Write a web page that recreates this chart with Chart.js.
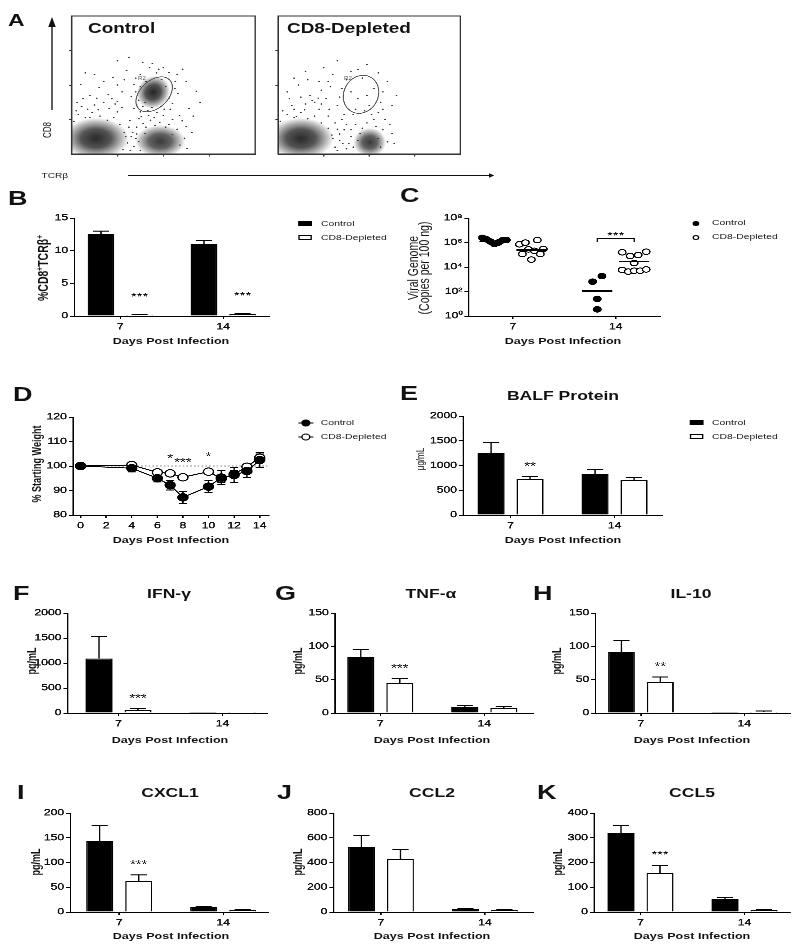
<!DOCTYPE html>
<html><head><meta charset="utf-8">
<script src="https://cdn.jsdelivr.net/npm/chart.js@4.4.1/dist/chart.umd.min.js"></script>
<style>
html,body{margin:0;padding:0;background:#fff;}
body{width:800px;height:951px;overflow:hidden;position:relative;}
#root{position:absolute;left:0;top:0;width:593px;height:951px;transform:scaleX(1.35);transform-origin:0 0;font-family:"Liberation Sans",Arial,sans-serif;color:#111;}
#root canvas{position:absolute;}
.t{position:absolute;white-space:nowrap;line-height:1;}
.t sup{font-size:0.62em;line-height:0;vertical-align:0.55em;}
</style></head><body><div id="root"></div>
<script>
// ================= DATA =================
const days = ['7', '14'];
const groups = ['Control', 'CD8-Depleted'];

// Panel A: flow cytometry events (axes in decades, 0-4)
const flowTicks = [1, 2, 3];
const ctrlEvents = [[0.05,0.95],[0.15,1.15],[0.3,1.05],[0.45,1.2],[0.62,1.1],[0.78,0.98],[0.92,1.05],[1.05,0.85],[1.15,0.62],[1.22,0.32],[1.12,0.12],[0.22,1.38],[0.5,1.42],[0.82,1.32],[1.0,1.22],
 [1.3,0.5],[1.36,0.22],[1.42,0.78],[1.47,1.02],[1.27,0.97],[1.56,0.88],[1.72,0.98],[1.92,0.92],[2.12,0.86],[2.3,0.72],[2.46,0.46],[2.52,0.16],[2.41,0.96],[2.62,0.62],
 [1.36,1.32],[1.5,1.22],[1.66,1.26],[1.86,1.2],[2.02,1.3],[2.2,1.46],[2.32,1.76],[2.26,2.1],[2.12,2.36],[1.9,2.46],[1.7,2.5],[1.5,2.3],[1.36,2.02],[1.3,1.66],[1.46,1.56],[2.12,1.62],[1.6,1.5],[1.96,2.16],[1.76,2.62],[2.42,2.46],[1.2,2.42],[1.1,1.8],[1.0,1.52],[0.8,1.72],[0.6,1.92],[0.4,1.7],[0.2,2.02],[0.9,2.22],[1.25,2.8],[1.55,2.66],[2.56,1.32],[2.72,1.82],
 [1.46,0.36],[1.6,0.6],[2.2,0.56],[2.36,0.26],[1.5,0.1],
 [0.1,1.25],[0.35,1.3],[0.58,1.28],[0.7,1.5],[0.95,1.45],[1.1,1.35],[0.25,1.6],[0.55,1.62],[0.88,1.6],[0.12,1.5],[0.4,1.05],
 [1.18,0.5],[1.25,0.78],[1.33,0.62],[1.4,0.45],[1.28,0.1],[1.42,0.58],
 [1.52,1.08],[1.68,1.12],[1.8,1.05],[2.0,1.12],[2.2,1.0],[2.35,1.12],[2.5,0.8],[1.62,0.78],[1.82,0.82],[2.05,0.78],
 [1.42,1.42],[1.55,1.38],[1.75,1.35],[1.95,1.38],[2.15,1.3],[2.25,1.9],[2.05,1.95],[1.4,1.8],[1.5,1.95],[1.62,2.1],[1.85,2.35],[2.0,2.5],[1.4,2.2],[2.3,2.3],
 [0.7,2.1],[0.5,2.3],[1.0,2.0],[1.15,2.15],[0.3,2.35],[1.0,2.7],[2.5,2.1],[2.8,1.5],[2.65,1.1]];
const deplEvents = [[0.05,0.95],[0.2,1.15],[0.35,1.05],[0.5,1.2],[0.65,1.02],[0.8,1.1],[0.95,0.9],[1.1,0.75],[1.2,0.45],[1.25,0.2],[0.3,1.4],[0.6,1.45],[0.9,1.3],[1.1,1.1],
 [1.35,0.4],[1.45,0.7],[1.5,0.15],[1.6,0.5],[1.7,0.85],[1.85,0.75],[2.3,0.7],[2.4,0.35],[2.5,0.6],[2.35,1.0],[2.1,1.0],[1.4,1.0],[1.25,0.9],[1.55,0.3],[1.75,0.4],[2.25,0.2],
 [0.2,1.8],[0.45,2.0],[0.7,1.7],[0.9,2.1],[1.05,1.6],[1.2,2.3],[1.3,1.4],[1.4,1.9],[1.55,1.3],[1.6,2.4],[1.75,1.6],[1.85,2.2],[2.0,1.4],[2.1,1.9],[2.25,1.5],[2.4,2.1],[2.6,1.7],[1.0,2.5],[0.6,2.4],[1.3,2.7],[1.95,2.6],[1.15,1.95],[0.8,1.5],[1.65,1.15],[1.9,1.25],[2.2,1.2],
 [0.1,1.25],[0.35,1.3],[0.58,1.28],[0.75,1.55],[0.95,1.45],[1.12,1.3],[0.25,1.6],[0.5,1.65],[0.88,1.62],[0.4,1.08],
 [1.18,0.55],[1.3,0.72],[1.35,0.58],[1.42,0.3],[1.3,0.1],[1.5,0.85],[1.6,0.7],[1.65,0.2],[1.8,0.6],[1.95,0.9],[2.15,0.8],[2.45,0.85],[2.55,0.3],[2.2,0.45],
 [1.45,1.15],[1.7,1.3],[2.05,1.15],[2.3,1.3],[1.35,1.65],[1.6,1.8],[1.95,1.7],[2.3,1.8],[0.95,1.85],[0.65,2.15],[1.5,2.15],[1.75,2.45],[2.2,2.35],[0.35,2.2],[1.1,2.1],[2.5,1.4]];
// dense populations: [x, y, spreadX, spreadY, tilt, density]
const ctrlClusters = [[0.53,0.45,0.72,0.6,0,0.93],[1.93,0.37,0.55,0.47,0,0.86],[1.78,1.79,0.38,0.46,40,0.95]];
const deplClusters = [[0.50,0.45,0.72,0.6,0,0.93],[2.01,0.34,0.36,0.42,0,0.86]];
// R2 gates: [x, y, semi-axis a, semi-axis b, tilt]
const ctrlGate = [1.80, 1.73, 0.46, 0.30, 42];
const deplGate = [1.82, 1.73, 0.43, 0.375, 60];

// Panel B
const bTicks = [0, 5, 10, 15];
const bControl = [12.5, 11.0], bControlErr = [0.5, 0.6];
const bDepleted = [0.15, 0.3], bDepletedErr = [0.05, 0.05];
const bSig = ['***', '***'];

// Panel C (copies per 100 ng)
const cTicks = [1, 1e2, 1e4, 1e6, 1e8];
const cControl7 = [2.4e6, 1.8e6, 1.2e6, 7.5e5, 1.0e6, 1.5e6, 1.6e6];
const cDepleted7 = [7.1e5, 1.15e5, 9.8e5, 2.75e5, 4.0e4, 2.1e5, 1.58e6, 1.15e5, 2.95e5];
const cControl14 = [6.3e2, 2.5e1, 3.5, 1.8e3];
const cDepleted14 = [1.58e5, 7.9e4, 9.5e4, 1.78e5, 2.1e4, 5.75e3, 4.2e3, 5.0e3, 5.0e3, 6.3e3];
const cControlMean = [1.17e6, 1.1e2];
const cDepletedMean = [2.45e5, 2.7e4];
const cSig = ['', '***'];

// Panel D
const dDays = [0, 4, 6, 7, 8, 10, 11, 12, 13, 14];
const dXTicks = [0, 2, 4, 6, 8, 10, 12, 14];
const dYTicks = [80, 90, 100, 110, 120];
const dControl = [100, 99.1, 95.0, 92.2, 87.2, 91.6, 95.3, 96.3, 97.9, 102.4];
const dControlErr = [0, 1.5, 1.5, 2.0, 2.5, 2.5, 3.0, 3.0, 2.5, 3.0];
const dDepleted = [100, 100.4, 97.4, 97.0, 95.4, 97.7, 94.8, 96.7, 99.7, 103.4];
const dDepletedErr = [0, 0.8, 0.6, 0.5, 0.5, 0.5, 1.5, 1.5, 1.0, 1.5];
const dSig = ['', '', '', '*', '***', '*', '', '', '', ''];

// Panel E-K
const eTicks = [0, 500, 1000, 1500, 2000];
const eControl = [1259, 822], eControlErr = [210, 100];
const eDepleted = [721, 707], eDepletedErr = [53, 55];
const eSig = ['**', ''];
const fTicks = [0, 500, 1000, 1500, 2000];
const fControl = [1090, 4], fControlErr = [440, 0];
const fDepleted = [67, 4], fDepletedErr = [19, 0];
const fSig = ['***', ''];
const gTicks = [0, 50, 100, 150];
const gControl = [84.5, 9.5], gControlErr = [10.5, 2];
const gDepleted = [44.5, 8], gDepletedErr = [7, 2];
const gSig = ['***', ''];
const hTicks = [0, 50, 100, 150];
const hControl = [91, 0.3], hControlErr = [18, 0];
const hDepleted = [46, 2], hDepletedErr = [8, 1];
const hSig = ['**', ''];
const iTicks = [0, 50, 100, 150, 200];
const iControl = [144, 9.5], iControlErr = [30, 1];
const iDepleted = [63, 4], iDepletedErr = [12, 1];
const iSig = ['***', ''];
const jTicks = [0, 200, 400, 600, 800];
const jControl = [525, 24], jControlErr = [95, 3];
const jDepleted = [428, 16], jDepletedErr = [80, 3];
const jSig = ['', ''];
const kTicks = [0, 100, 200, 300, 400];
const kControl = [318, 52], kControlErr = [33, 6];
const kDepleted = [159, 8], kDepletedErr = [30, 2];
const kSig = ['***', ''];

// ================= LAYOUT =================
const S = 1.35;
const root = document.getElementById('root');
const px = x => x / S;
const FONT = '"Liberation Sans", Arial, sans-serif';
Chart.defaults.font.family = FONT;
Chart.defaults.font.size = 9;
Chart.defaults.color = '#111';

function txt(x, y, s, o) {
  o = o || {};
  const d = document.createElement('div');
  d.className = 't';
  d.innerHTML = s;
  d.style.fontSize = (o.size || 9) + 'px';
  d.style.fontWeight = o.bold ? 'bold' : 'normal';
  if (o.color) d.style.color = o.color;
  d.style.left = px(x) + 'px';
  d.style.top = y + 'px';
  const ax = o.align === 'left' ? '0' : (o.align === 'right' ? '-100%' : '-50%');
  d.style.transform = 'translate(' + ax + ',-50%)' + (o.rot ? ' rotate(-90deg)' : '');
  root.appendChild(d);
}
function box(x, y, filled) {
  const d = document.createElement('div');
  d.style.cssText = 'position:absolute;box-sizing:border-box;border:1px solid #000;';
  d.style.left = px(x) + 'px'; d.style.top = (y - 2.6) + 'px';
  d.style.width = px(14) + 'px'; d.style.height = '5.2px';
  d.style.background = filled ? '#000' : '#fff';
  root.appendChild(d);
}
function dot(x, y, filled) {
  const d = document.createElement('div');
  d.style.cssText = 'position:absolute;box-sizing:border-box;border:1px solid #000;border-radius:50%;width:5.4px;height:5.4px;';
  d.style.left = (px(x) - 2.7) + 'px'; d.style.top = (y - 2.7) + 'px';
  d.style.background = filled ? '#000' : '#fff';
  root.appendChild(d);
}
function lineDot(x, y, filled) {
  const ns = 'http://www.w3.org/2000/svg';
  const s = document.createElementNS(ns, 'svg');
  const w = px(15);
  s.setAttribute('width', w); s.setAttribute('height', 8);
  s.style.cssText = 'position:absolute;overflow:visible;';
  s.style.left = px(x) + 'px'; s.style.top = (y - 4) + 'px';
  s.innerHTML = '<line x1="0" y1="4" x2="' + w + '" y2="4" stroke="#000" stroke-width="1"/>' +
    '<circle cx="' + (w / 2) + '" cy="4" r="2.9" fill="' + (filled ? '#000' : '#fff') + '" stroke="#000" stroke-width="1"/>';
  root.appendChild(s);
}
function arrows() {
  const ns = 'http://www.w3.org/2000/svg';
  const s = document.createElementNS(ns, 'svg');
  s.setAttribute('width', 600); s.setAttribute('height', 200);
  s.style.cssText = 'position:absolute;left:0;top:0;';
  const vx = px(52), h1 = px(128), h2 = px(489);
  s.innerHTML = '<line x1="' + vx + '" y1="110" x2="' + vx + '" y2="26" stroke="#111" stroke-width="1"/>' +
    '<polygon points="' + (vx - 2.8) + ',27 ' + (vx + 2.8) + ',27 ' + vx + ',17" fill="#111"/>' +
    '<line x1="' + h1 + '" y1="175.5" x2="' + h2 + '" y2="175.5" stroke="#111" stroke-width="0.9"/>' +
    '<polygon points="' + h2 + ',173.3 ' + h2 + ',177.7 ' + (h2 + 4) + ',175.5" fill="#111"/>';
  root.appendChild(s);
}

function makeCanvas(lay, pad) {
  const L = lay.L / S, W = (lay.R - lay.L) / S, H = lay.B - lay.T;
  const w = Math.ceil(pad.l + W + pad.r), h = Math.ceil(pad.t + H + pad.b);
  const cv = document.createElement('canvas');
  cv.width = w; cv.height = h;
  cv.style.left = (L - pad.l) + 'px';
  cv.style.top = (lay.T - pad.t) + 'px';
  cv._pad = pad; cv._padR = w - pad.l - W; cv._padB = h - pad.t - H;
  root.appendChild(cv);
  return cv;
}
function base(cv) {
  return { responsive: false, animation: false, devicePixelRatio: 3, events: [],
    layout: { padding: { left: 0, top: cv._pad.t, right: cv._padR, bottom: 0 } },
    plugins: { legend: { display: false }, tooltip: { enabled: false } } };
}
function xScale(cv, min, max, tickVals, label, hide) {
  return { type: 'linear', min: min, max: max, offset: false, position: 'bottom',
    afterBuildTicks: s => { s.ticks = tickVals.map(v => ({ value: v })); },
    ticks: { display: !hide, callback: label, autoSkip: false, maxRotation: 0, padding: 2.5, color: '#111', font: { size: 9 }, textStrokeColor: '#111', textStrokeWidth: 0.3 },
    grid: { drawOnChartArea: false, drawTicks: true, tickLength: hide ? 2.5 : 3, color: hide ? '#333' : '#000', lineWidth: 1, offset: false },
    border: { color: hide ? '#333' : '#000', width: 1 },
    afterFit: s => { s.height = cv._padB; } };
}
function yScale(cv, type, min, max, tickVals, label, hide) {
  return { type: type, min: min, max: max,
    afterBuildTicks: s => { s.ticks = tickVals.map(v => ({ value: v })); },
    ticks: { display: !hide, callback: label, autoSkip: false, padding: 1.5, color: '#111', font: { size: 9 }, textStrokeColor: '#111', textStrokeWidth: 0.3 },
    grid: { drawOnChartArea: false, drawTicks: true, tickLength: hide ? 2 : 3, color: hide ? '#333' : '#000', lineWidth: 1 },
    border: { color: hide ? '#333' : '#000', width: 1 },
    afterFit: s => { s.width = cv._pad.l; } };
}

// ---- plugins ----
function errPlugin(both) {
  const draw = chart => {
    const ctx = chart.ctx, ys = chart.scales.y;
    chart.data.datasets.forEach((ds, di) => {
      if (!ds.errorBars) return;
      const meta = chart.getDatasetMeta(di);
      meta.data.forEach((el, i) => {
        const e = ds.errorBars[i];
        if (!e) return;
        const v = ds.data[i].y;
        const top = ys.getPixelForValue(v + e);
        const bot = both ? ys.getPixelForValue(v - e) : el.y;
        const cap = both ? 3 : el.width * 0.3;
        ctx.save(); ctx.strokeStyle = '#000'; ctx.lineWidth = 1; ctx.beginPath();
        ctx.moveTo(el.x, bot); ctx.lineTo(el.x, top);
        ctx.moveTo(el.x - cap, top); ctx.lineTo(el.x + cap, top);
        if (both) { ctx.moveTo(el.x - cap, bot); ctx.lineTo(el.x + cap, bot); }
        ctx.stroke(); ctx.restore();
      });
    });
  };
  return both ? { id: 'errBoth', beforeDatasetsDraw: draw } : { id: 'errUp', afterDatasetsDraw: draw };
}
function sigPlugin(offset, column) {
  return { id: 'sig', afterDatasetsDraw(chart) {
    const ctx = chart.ctx, ys = chart.scales.y, fs = 11;
    ctx.save(); ctx.fillStyle = '#111'; ctx.font = fs + 'px ' + FONT;
    ctx.textAlign = 'center'; ctx.textBaseline = 'alphabetic';
    chart.data.datasets.forEach((ds, di) => {
      if (!ds.sig) return;
      const meta = chart.getDatasetMeta(di);
      ds.sig.forEach((s, i) => {
        if (!s) return;
        let top = Infinity;
        const list = column ? chart.data.datasets : [ds];
        list.forEach(d2 => {
          const v = d2.data[i].y + (d2.errorBars ? d2.errorBars[i] : 0);
          top = Math.min(top, ys.getPixelForValue(v));
        });
        ctx.fillText(s, meta.data[i].x, top - offset + 0.6 * fs);
      });
    });
    ctx.restore();
  } };
}
function refLinePlugin(value) {
  return { id: 'refLine', beforeDatasetsDraw(chart) {
    const ctx = chart.ctx, xs = chart.scales.x, ys = chart.scales.y;
    const y = ys.getPixelForValue(value);
    ctx.save(); ctx.strokeStyle = '#888'; ctx.lineWidth = 1; ctx.setLineDash([1.2, 1.6]);
    ctx.beginPath(); ctx.moveTo(xs.getPixelForValue(0), y); ctx.lineTo(chart.chartArea.right, y); ctx.stroke();
    ctx.restore();
  } };
}
function flowPlugin(clusters, gate) {
  const units = chart => {
    const xs = chart.scales.x, ys = chart.scales.y;
    return [(xs.getPixelForValue(1) - xs.getPixelForValue(0)) * S, ys.getPixelForValue(0) - ys.getPixelForValue(1)];
  };
  return { id: 'flow',
    beforeDatasetsDraw(chart) {
      const ctx = chart.ctx, xs = chart.scales.x, ys = chart.scales.y, a = chart.chartArea;
      const [ux, uy] = units(chart);
      ctx.save(); ctx.beginPath(); ctx.rect(a.left, a.top, a.width, a.height); ctx.clip();
      clusters.forEach(c => {
        ctx.save();
        ctx.translate(xs.getPixelForValue(c[0]), ys.getPixelForValue(c[1]));
        ctx.scale(1 / S, 1); ctx.rotate(-c[4] * Math.PI / 180); ctx.scale(c[2] * ux, c[3] * uy);
        const g = ctx.createRadialGradient(0, 0, 0, 0, 0, 1);
        const k = c[5];
        g.addColorStop(0, 'rgba(25,25,25,' + k + ')');
        g.addColorStop(0.45, 'rgba(25,25,25,' + (k * 0.8) + ')');
        g.addColorStop(0.8, 'rgba(25,25,25,' + (k * 0.3) + ')');
        g.addColorStop(1, 'rgba(25,25,25,0)');
        ctx.fillStyle = g; ctx.beginPath(); ctx.arc(0, 0, 1, 0, Math.PI * 2); ctx.fill();
        ctx.restore();
      });
      ctx.restore();
    },
    afterDatasetsDraw(chart) {
      const ctx = chart.ctx, xs = chart.scales.x, ys = chart.scales.y, a = chart.chartArea;
      const [ux] = units(chart);
      ctx.save();
      ctx.save();
      ctx.translate(xs.getPixelForValue(gate[0]), ys.getPixelForValue(gate[1]));
      ctx.scale(1 / S, 1); ctx.rotate(-gate[4] * Math.PI / 180);
      ctx.beginPath(); ctx.ellipse(0, 0, gate[2] * ux, gate[3] * ux, 0, 0, Math.PI * 2);
      ctx.restore();
      ctx.strokeStyle = '#555'; ctx.lineWidth = 0.8; ctx.stroke();
      ctx.strokeStyle = '#333'; ctx.lineWidth = 1;
      ctx.strokeRect(a.left, a.top, a.width, a.height);
      ctx.restore();
    } };
}
function cMarksPlugin(means, brackets, half) {
  return { id: 'cMarks', afterDatasetsDraw(chart) {
    const ctx = chart.ctx, xs = chart.scales.x, ys = chart.scales.y;
    ctx.save(); ctx.strokeStyle = '#000'; ctx.lineWidth = 1.3;
    means.forEach(m => {
      const x = xs.getPixelForValue(m.x), y = ys.getPixelForValue(m.v);
      ctx.beginPath(); ctx.moveTo(x - half, y); ctx.lineTo(x + half, y); ctx.stroke();
    });
    ctx.lineWidth = 1;
    ctx.fillStyle = '#111'; ctx.font = '11px ' + FONT; ctx.textAlign = 'center'; ctx.textBaseline = 'alphabetic';
    brackets.forEach(b => {
      const y = ys.getPixelForValue(b.top) - 13;
      const x1 = xs.getPixelForValue(b.x1), x2 = xs.getPixelForValue(b.x2);
      ctx.beginPath(); ctx.moveTo(x1, y + 3); ctx.lineTo(x1, y); ctx.lineTo(x2, y); ctx.lineTo(x2, y + 3); ctx.stroke();
      ctx.fillText(b.text, (x1 + x2) / 2, y - 6 + 6.6);
    });
    ctx.restore();
  } };
}

// ---- chart builders ----
function flowChart(lay, events, clusters, gate) {
  const pad = { l: 3, t: 2, r: 2, b: 3 };
  const cv = makeCanvas(lay, pad);
  new Chart(cv, { type: 'scatter',
    data: { datasets: [{ data: events.map(p => ({ x: p[0], y: p[1] })), pointRadius: 0.65, pointBackgroundColor: '#333', pointBorderWidth: 0 }] },
    options: Object.assign(base(cv), { scales: {
      x: xScale(cv, 0, 4, flowTicks, v => '', true),
      y: yScale(cv, 'linear', 0, 4, flowTicks, v => '', true) } }),
    plugins: [flowPlugin(clusters, gate)] });
}
function barChart(lay, ticks, ctrl, ctrlErr, depl, deplErr, sig, sigOffset) {
  const pad = { l: 30, t: 8, r: 4, b: 16 };
  const cv = makeCanvas(lay, pad);
  const sp = lay.c2 - lay.c1;
  const xmin = -(lay.c1 - lay.L) / sp, xmax = (days.length - 1) + (lay.R - lay.c2) / sp;
  const opts = base(cv);
  opts.datasets = { bar: { categoryPercentage: 0.75, barPercentage: 0.69 } };
  opts.scales = { x: xScale(cv, xmin, xmax, days.map((_, i) => i), v => days[v]),
                  y: yScale(cv, 'linear', 0, ticks[ticks.length - 1], ticks, v => String(v)) };
  new Chart(cv, { type: 'bar',
    data: { datasets: [
      { label: groups[0], data: ctrl.map((v, i) => ({ x: i, y: v })), backgroundColor: '#000', borderColor: '#000', borderWidth: 1, errorBars: ctrlErr },
      { label: groups[1], data: depl.map((v, i) => ({ x: i, y: v })), backgroundColor: '#fff', borderColor: '#000', borderWidth: 1, errorBars: deplErr, sig: sig } ] },
    options: opts,
    plugins: [errPlugin(false), sigPlugin(sigOffset, false)] });
}
const SUP = { 0: '\u2070', 2: '\u00B2', 4: '\u2074', 6: '\u2076', 8: '\u2078' };
function swarm(vals, center, step, maxW) {
  const lg = vals.map(v => Math.log10(v));
  const order = lg.map((_, i) => i).sort((a, b) => lg[a] - lg[b]);
  const rows = [[order[0]]];
  for (let k = 1; k < order.length; k++) {
    if (lg[order[k]] - lg[order[k - 1]] < 0.5) rows[rows.length - 1].push(order[k]);
    else rows.push([order[k]]);
  }
  const xs = [];
  rows.forEach(r => {
    r.sort((a, b) => a - b);
    const n = r.length, w = Math.min((n - 1) * step, maxW);
    r.forEach((j, k) => { xs[j] = center + (n > 1 ? -w / 2 + k * w / (n - 1) : 0); });
  });
  return xs;
}
function cChart() {
  const lay = { L: 468, R: 660, T: 218, B: 316, c1: 512.5, c2: 615.5 };
  const pad = { l: 30, t: 8, r: 4, b: 16 };
  const cv = makeCanvas(lay, pad);
  const sp = lay.c2 - lay.c1;
  const xmin = -(lay.c1 - lay.L) / sp, xmax = 1 + (lay.R - lay.c2) / sp;
  const off = 18.5 / sp, step = 9.3 / sp, maxW = 24 / sp;
  const pts = (sets, sgn) => sets.flatMap((vals, ci) => {
    const xs = swarm(vals, ci + sgn * off, step, maxW);
    return vals.map((v, j) => ({ x: xs[j], y: v }));
  });
  const ctrlSets = [cControl7, cControl14], deplSets = [cDepleted7, cDepleted14];
  const means = [];
  days.forEach((d, ci) => { means.push({ x: ci - off, v: cControlMean[ci] }); means.push({ x: ci + off, v: cDepletedMean[ci] }); });
  const brackets = [];
  cSig.forEach((s, ci) => { if (s) brackets.push({ x1: ci - off, x2: ci + off, top: Math.max(...ctrlSets[ci], ...deplSets[ci]), text: s }); });
  const opts = base(cv);
  opts.scales = { x: xScale(cv, xmin, xmax, days.map((_, i) => i), v => days[v]),
                  y: yScale(cv, 'logarithmic', 1, 1e8, cTicks, v => '10' + SUP[Math.round(Math.log10(v))]) };
  new Chart(cv, { type: 'scatter',
    data: { datasets: [
      { label: groups[0], data: pts(ctrlSets, -1), pointRadius: 2.8, pointBackgroundColor: '#000', pointBorderColor: '#000', pointBorderWidth: 1 },
      { label: groups[1], data: pts(deplSets, 1), pointRadius: 2.8, pointBackgroundColor: '#fff', pointBorderColor: '#000', pointBorderWidth: 1 } ] },
    options: opts,
    plugins: [cMarksPlugin(means, brackets, px(15))] });
}
function dChart() {
  const lay = { L: 73, R: 269, T: 417, B: 515 };
  const pad = { l: 30, t: 8, r: 4, b: 16 };
  const cv = makeCanvas(lay, pad);
  const opts = base(cv);
  opts.scales = { x: xScale(cv, -0.6, 14.7, dXTicks, v => String(v)),
                  y: yScale(cv, 'linear', 80, 120, dYTicks, v => String(v)) };
  new Chart(cv, { type: 'line',
    data: { datasets: [
      { label: groups[0], data: dDays.map((d, i) => ({ x: d, y: dControl[i] })), borderColor: '#000', borderWidth: 1, pointRadius: 3.7, pointBackgroundColor: '#000', pointBorderColor: '#000', pointBorderWidth: 1, errorBars: dControlErr, sig: dSig },
      { label: groups[1], data: dDays.map((d, i) => ({ x: d, y: dDepleted[i] })), borderColor: '#000', borderWidth: 1, pointRadius: 3.7, pointBackgroundColor: '#fff', pointBorderColor: '#000', pointBorderWidth: 1, errorBars: dDepletedErr } ] },
    options: opts,
    plugins: [refLinePlugin(100), errPlugin(true), sigPlugin(17, true)] });
}

// ================= BUILD =================
flowChart({ L: 70, R: 257, T: 14, B: 155 }, ctrlEvents, ctrlClusters, ctrlGate);
flowChart({ L: 277, R: 462, T: 14, B: 155 }, deplEvents, deplClusters, deplGate);
barChart({ L: 74, R: 269, T: 218, B: 316, c1: 120, c2: 223 }, bTicks, bControl, bControlErr, bDepleted, bDepletedErr, bSig, 21);
cChart();
dChart();
barChart({ L: 463, R: 662, T: 416, B: 515, c1: 510.5, c2: 614.5 }, eTicks, eControl, eControlErr, eDepleted, eDepletedErr, eSig, 13.5);
barChart({ L: 68, R: 268, T: 613, B: 713, c1: 119, c2: 223 }, fTicks, fControl, fControlErr, fDepleted, fDepletedErr, fSig, 13.5);
barChart({ L: 335, R: 533, T: 613, B: 713, c1: 380.5, c2: 484.5 }, gTicks, gControl, gControlErr, gDepleted, gDepletedErr, gSig, 13.5);
barChart({ L: 595, R: 790, T: 613, B: 713, c1: 640.5, c2: 744 }, hTicks, hControl, hControlErr, hDepleted, hDepletedErr, hSig, 13.5);
barChart({ L: 70, R: 268, T: 813, B: 912, c1: 119, c2: 223 }, iTicks, iControl, iControlErr, iDepleted, iDepletedErr, iSig, 13.5);
barChart({ L: 333, R: 533, T: 813, B: 912, c1: 380.5, c2: 484.5 }, jTicks, jControl, jControlErr, jDepleted, jDepletedErr, jSig, 13.5);
barChart({ L: 594, R: 790, T: 813, B: 912, c1: 640.5, c2: 744.5 }, kTicks, kControl, kControlErr, kDepleted, kDepletedErr, kSig, 13.5);

// ---- texts ----
arrows();
const DPI = 'Days Post Infection';
txt(8, 20, 'A', { size: 17, bold: true, align: 'left' });
txt(88, 28, groups[0], { size: 14, bold: true, align: 'left' });
txt(287, 28, groups[1], { size: 14, bold: true, align: 'left' });
txt(49, 129.5, 'CD8', { size: 8, rot: true });
txt(41.5, 176, 'TCR\u03B2', { size: 7.5, align: 'left' });
txt(142, 79, 'R2', { size: 4.5, color: '#555' });
txt(348, 79, 'R2', { size: 4.5, color: '#555' });

txt(8, 197.5, 'B', { size: 20, bold: true, align: 'left' });
txt(43, 268, '%CD8<sup>+</sup>TCR\u03B2<sup>+</sup>', { size: 10.5, bold: true, rot: true });
txt(171, 342, DPI, { size: 9.3, bold: true });
box(298, 223.5, true); box(298, 237.5, false);
txt(321, 223.5, groups[0], { size: 7.7, align: 'left' }); txt(321, 237.5, groups[1], { size: 7.7, align: 'left' });

txt(400, 195, 'C', { size: 20, bold: true, align: 'left' });
txt(413, 268, 'Viral Genome', { size: 10.5, rot: true });
txt(424, 268, '(Copies per 100 ng)', { size: 10.5, rot: true });
txt(563, 342, DPI, { size: 9.3, bold: true });
dot(696, 223.3, true); dot(696, 237.3, false);
txt(712, 223.3, groups[0], { size: 7.7, align: 'left' }); txt(712, 237.3, groups[1], { size: 7.7, align: 'left' });

txt(13, 394, 'D', { size: 20, bold: true, align: 'left' });
txt(37.5, 464, '% Starting Weight', { size: 9, bold: true, rot: true });
txt(171, 541, DPI, { size: 9.3, bold: true });
lineDot(298, 422.7, true); lineDot(298, 436.7, false);
txt(320.7, 422.7, groups[0], { size: 7.7, align: 'left' }); txt(320.7, 436.7, groups[1], { size: 7.7, align: 'left' });

txt(400, 393, 'E', { size: 20, bold: true, align: 'left' });
txt(563, 395, 'BALF Protein', { size: 13, bold: true });
txt(421.5, 459, '\u03BCg/mL', { size: 8, rot: true });
txt(563, 541, DPI, { size: 9.3, bold: true });
box(690, 422.5, true); box(690, 436.5, false);
txt(712, 422.5, groups[0], { size: 7.7, align: 'left' }); txt(712, 436.5, groups[1], { size: 7.7, align: 'left' });

const panels2 = [
  ['F', 13, 593, 'IFN-\u03B3', 169, 32, 661, 741, 170],
  ['G', 275, 593, 'TNF-\u03B1', 431, 298, 661, 741, 432],
  ['H', 533, 593, 'IL-10', 691, 558, 661, 741, 692],
  ['I', 17, 792, 'CXCL1', 170, 37, 862, 937, 171],
  ['J', 277, 792, 'CCL2', 432, 298, 862, 937, 432],
  ['K', 537, 792, 'CCL5', 692, 559, 862, 937, 692]
];
panels2.forEach(p => {
  txt(p[1], p[2], p[0], { size: 20, bold: true, align: 'left' });
  txt(p[4], p[2], p[3], { size: 13, bold: true });
  txt(p[5], p[6], 'pg/mL', { size: 9, bold: true, rot: true });
  txt(p[8], p[7], DPI, { size: 9.3, bold: true });
});
</script>
</body></html>
